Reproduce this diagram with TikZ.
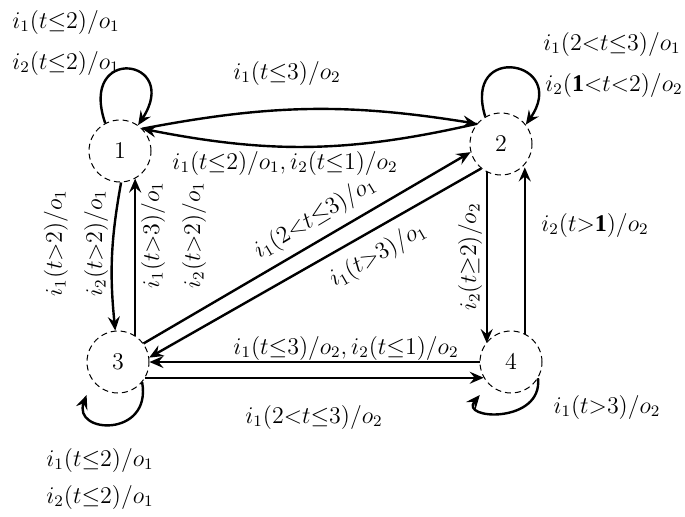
\documentclass[tikz,border=0pt]{standalone}
\usepackage{fontspec}
\setmainfont{Liberation Serif}
\usetikzlibrary{arrows.meta}

\begin{document}
\begin{tikzpicture}[x=0.5pt,y=0.5pt,
    stnode/.style={circle,draw,densely dashed,line width=0.5pt,minimum size=31pt,inner sep=0pt,font=\fontsize{13}{15}\selectfont},
    trans/.style={line width=1.2pt,-{Stealth[length=7pt,width=6pt,inset=2.5pt]}},
    lbl/.style={font=\fontsize{12}{14}\selectfont,inner sep=1pt}]
    \useasboundingbox (0,0) rectangle (685,516);

    % States
    \node[stnode] (n1) at (120,365) {$1$};
    \node[stnode] (n2) at (501,372) {$2$};
    \node[stnode] (n3) at (118,154) {$3$};
    \node[stnode] (n4) at (511,154) {$4$};

    % Self loops
    \draw[trans] (n1.118) .. controls (78,472) and (182,458) .. (n1.55);
    \draw[trans] (n2.120) .. controls (462,475) and (570,455) .. (n2.38);
    \draw[trans,shorten >=8pt] (n3.-40) .. controls (152,78) and (72,82) .. (n3.215);
    \draw[trans,shorten >=7pt] (n4.-31) .. controls (543,92) and (459,96) .. (n4.225);

    % Transitions between 1 and 2
    \draw[trans] (n1.45) to[bend left=10] (n2.140);
    \draw[trans] (n2.140) to[bend left=12] (n1.45);

    % Transitions between 1 and 3
    \draw[trans] (n1.272) to[bend right=8] (n3.95);
    \draw[trans] (n3.57) -- (n3.57 |- n1.-61);

    % Diagonal transitions
    \draw[trans] (n3.36) -- (n2.195);
    \draw[trans] (n2.231) -- (n3.8);

    % Transitions between 2 and 4
    \draw[trans] (n2.243) -- (n2.243 |- n4.143);
    \draw[trans] (n4.64) -- (n4.64 |- n2.-48);

    % Transitions between 3 and 4
    \draw[trans] (n4.180) -- (n3.0);
    \draw[trans] (n3.-30) -- (n4.-150);

    % Loop labels
    \node[lbl] at (66,494) {$i_1(t{\leq}2)/o_1$};
    \node[lbl] at (66,453) {$i_2(t{\leq}2)/o_1$};
    \node[lbl] at (612,472) {$i_1(2{<}t{\leq}3)/o_1$};
    \node[lbl] at (614,431) {$i_2(\mathbf{1}{<}t{<}2)/o_2$};
    \node[lbl] at (100,56) {$i_1(t{\leq}2)/o_1$};
    \node[lbl] at (100,19) {$i_2(t{\leq}2)/o_1$};
    \node[lbl] at (607,109) {$i_1(t{>}3)/o_2$};

    % Transition labels
    \node[lbl] at (287,443) {$i_1(t{\leq}3)/o_2$};
    \node[lbl] at (285,353) {$i_1(t{\leq}2)/o_1, i_2(t{\leq}1)/o_2$};
    \node[lbl,rotate=90] at (56,273) {$i_1(t{>}2)/o_1$};
    \node[lbl,rotate=90] at (96,273) {$i_2(t{>}2)/o_1$};
    \node[lbl,rotate=90] at (153,281) {$i_1(t{>}3)/o_1$};
    \node[lbl,rotate=90] at (194,281) {$i_2(t{>}2)/o_1$};
    \node[lbl,rotate=31] at (315,298) {$i_1(2{<}t{\leq}3)/o_1$};
    \node[lbl,rotate=30] at (378,261) {$i_1(t{>}3)/o_1$};
    \node[lbl,rotate=90] at (470,259) {$i_2(t{\geq}2)/o_2$};
    \node[lbl] at (595,291) {$i_2(t{>}\mathbf{1})/o_2$};
    \node[lbl] at (346,168) {$i_1(t{\leq}3)/o_2, i_2(t{\leq}1)/o_2$};
    \node[lbl] at (314,99) {$i_1(2{<}t{\leq}3)/o_2$};

\end{tikzpicture}
\end{document}
